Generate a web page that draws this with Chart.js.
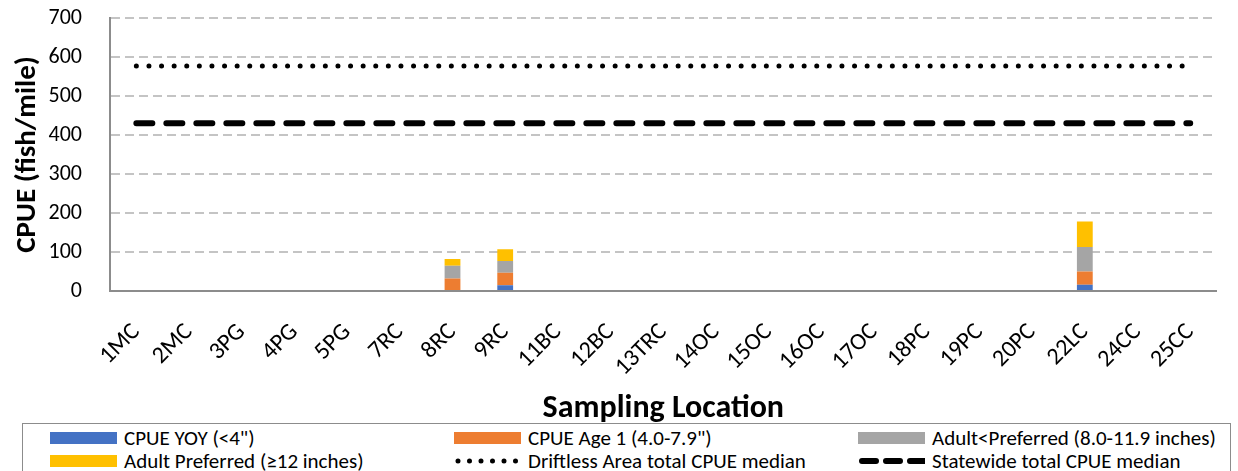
<!DOCTYPE html>
<html>
<head>
<meta charset="utf-8">
<script src="https://cdn.jsdelivr.net/npm/chart.js@4"></script>
<style>
  body { margin: 0; background: #fff; font-family: Carlito, Calibri, Lato, sans-serif; }
  #wrap { position: relative; width: 1238px; height: 471px; overflow: hidden; }
  #chartBox { position: absolute; left: 0; top: 0; width: 1238px; height: 428px; }
  #legend {
    position: absolute; left: 22px; top: 423px; width: 1209px; height: 60px;
    border: 1.5px solid #8c8c8c; box-sizing: border-box; background: #fff;
    display: grid; grid-template-columns: 404px 404px 400px; grid-auto-rows: 23px;
    padding-top: 2px;
  }
  .item { display: flex; align-items: center; padding-left: 27px; font-size: 21px; color: #000; white-space: nowrap; }
  .item svg { margin-right: 7px; flex: none; }
</style>
</head>
<body>
<div id="wrap">
  <div id="chartBox"><canvas id="chart"></canvas></div>
  <div id="legend"></div>
</div>
<script>
// ---------------- DATA ----------------
const categories = ["1MC", "2MC", "3PG", "4PG", "5PG", "7RC", "8RC", "9RC", "11BC", "12BC",
  "13TRC", "14OC", "15OC", "16OC", "17OC", "18PC", "19PC", "20PC", "22LC", "24CC", "25CC"];

const yoy       = [0, 0, 0, 0, 0, 0, 0, 15, 0, 0, 0, 0, 0, 0, 0, 0, 0, 0, 16, 0, 0];
const age1      = [0, 0, 0, 0, 0, 0, 32, 32, 0, 0, 0, 0, 0, 0, 0, 0, 0, 0, 34, 0, 0];
const adultLess = [0, 0, 0, 0, 0, 0, 33, 30, 0, 0, 0, 0, 0, 0, 0, 0, 0, 0, 63, 0, 0];
const adultPref = [0, 0, 0, 0, 0, 0, 17, 30, 0, 0, 0, 0, 0, 0, 0, 0, 0, 0, 65, 0, 0];

const driftlessMedian = 577;
const statewideMedian = 430;

const yTicks = [0, 100, 200, 300, 400, 500, 600, 700];

const FONT = "Carlito, Calibri, Lato, sans-serif";

// ---------------- DATASETS ----------------
const datasets = [
  { label: 'CPUE YOY (<4")', data: yoy, backgroundColor: "#4472C4", kind: "bar" },
  { label: 'CPUE Age 1 (4.0-7.9")', data: age1, backgroundColor: "#ED7D31", kind: "bar" },
  { label: "Adult<Preferred (8.0-11.9 inches)", data: adultLess, backgroundColor: "#A5A5A5", kind: "bar" },
  { label: "Adult Preferred (≥12 inches)", data: adultPref, backgroundColor: "#FFC000", kind: "bar" },
  {
    label: "Driftless Area total CPUE median", type: "line", kind: "dot", stack: "drift",
    data: categories.map(() => driftlessMedian),
    borderColor: "#000", borderWidth: 5, borderDash: [0, 12.6], borderCapStyle: "round",
    pointRadius: 0, fill: false,
  },
  {
    label: "Statewide total CPUE median", type: "line", kind: "dash", stack: "state",
    data: categories.map(() => statewideMedian),
    borderColor: "#000", borderWidth: 6, borderDash: [16, 14], borderCapStyle: "round",
    pointRadius: 0, fill: false,
  },
];

datasets.forEach((d) => {
  if (d.kind === "bar") {
    d.type = "bar";
    d.stack = "s";
    d.barPercentage = 0.6;
    d.categoryPercentage = 0.5;
    d.borderWidth = 0;
  }
});

// ---------------- CHART ----------------
new Chart(document.getElementById("chart"), {
  type: "bar",
  data: { labels: categories, datasets },
  options: {
    responsive: true,
    maintainAspectRatio: false,
    animation: false,
    layout: { autoPadding: false, padding: { top: 18, right: 18, bottom: 0, left: 0 } },
    plugins: { legend: { display: false }, tooltip: { enabled: false } },
    scales: {
      x: {
        stacked: true,
        afterFit: (s) => { s.height = 137; },
        grid: { display: false, drawTicks: false },
        border: { color: "#8c8c8c", width: 2 },
        ticks: {
          autoSkip: false, maxRotation: 45, minRotation: 45, padding: 27,
          color: "#000", font: { family: FONT, size: 24 },
        },
        title: {
          display: true, text: "Sampling Location", color: "#000",
          font: { family: FONT, size: 32, weight: "bold" }, padding: { top: 0, bottom: 0 },
        },
      },
      y: {
        stacked: true,
        min: 0, max: 700,
        afterBuildTicks: (s) => { s.ticks = yTicks.map((v) => ({ value: v })); },
        afterFit: (s) => { s.width = 110; },
        grid: {
          color: "#c4c4c4", lineWidth: 2, drawTicks: true, tickLength: 28, tickColor: "rgba(0,0,0,0)",
        },
        border: { color: "#8c8c8c", width: 2, dash: [9, 5] },
        ticks: { padding: 0, color: "#000", font: { family: FONT, size: 22 } },
        title: {
          display: true, text: "CPUE (fish/mile)", color: "#000",
          font: { family: FONT, size: 29, weight: "bold" }, padding: { top: 10, bottom: 0 },
        },
      },
    },
  },
  plugins: [{
    // the y axis line itself is solid; the dash only applies to the grid
    id: "solidAxis",
    afterDraw(chart) {
      const { ctx, chartArea: a } = chart;
      ctx.save();
      ctx.strokeStyle = "#8c8c8c";
      ctx.lineWidth = 2;
      ctx.setLineDash([]);
      ctx.beginPath();
      ctx.moveTo(a.left, a.top);
      ctx.lineTo(a.left, a.bottom);
      ctx.stroke();
      ctx.restore();
    },
  }],
});

// ---------------- LEGEND ----------------
function swatch(d) {
  if (d.kind === "bar") {
    return `<svg width="67" height="14"><rect x="0" y="1" width="67" height="12" fill="${d.backgroundColor}"/></svg>`;
  }
  if (d.kind === "dot") {
    return `<svg width="67" height="14"><line x1="4" y1="7" x2="64" y2="7" stroke="#000" stroke-width="5" stroke-linecap="round" stroke-dasharray="0 11.5"/></svg>`;
  }
  return `<svg width="67" height="14"><line x1="4" y1="7" x2="66" y2="7" stroke="#000" stroke-width="6" stroke-linecap="round" stroke-dasharray="14 10"/></svg>`;
}

const legendEl = document.getElementById("legend");
datasets.forEach((d) => {
  const div = document.createElement("div");
  div.className = "item";
  div.innerHTML = swatch(d);
  div.appendChild(document.createTextNode(d.label));
  legendEl.appendChild(div);
});
</script>
</body>
</html>
